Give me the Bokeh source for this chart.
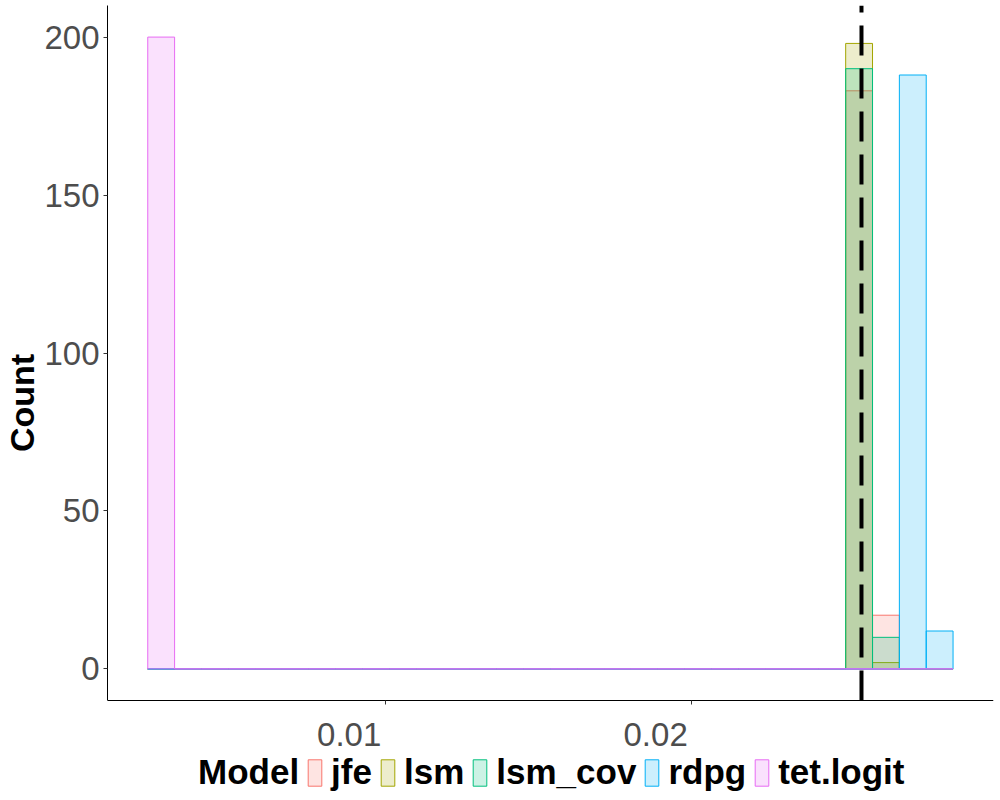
from bokeh.plotting import figure
from bokeh.models import Range1d, FixedTicker, Legend, LegendItem, Label
from bokeh.embed import file_html
from bokeh.resources import INLINE

# ---- data (30 bins) ----
models = ["jfe", "lsm", "lsm_cov", "rdpg", "tet.logit"]
colors = ["#F8766D", "#A3A500", "#00BF7D", "#00B0F6", "#E76BF3"]
bin_start = 0.002248
bin_width = 0.000876
counts_jfe =       [0, 0, 0, 0, 0, 0, 0, 0, 0, 0, 0, 0, 0, 0, 0, 0, 0, 0, 0, 0, 0, 0, 0, 0, 0, 0, 183, 17, 0, 0]
counts_lsm =       [0, 0, 0, 0, 0, 0, 0, 0, 0, 0, 0, 0, 0, 0, 0, 0, 0, 0, 0, 0, 0, 0, 0, 0, 0, 0, 198, 2, 0, 0]
counts_lsm_cov =   [0, 0, 0, 0, 0, 0, 0, 0, 0, 0, 0, 0, 0, 0, 0, 0, 0, 0, 0, 0, 0, 0, 0, 0, 0, 0, 190, 10, 0, 0]
counts_rdpg =      [0, 0, 0, 0, 0, 0, 0, 0, 0, 0, 0, 0, 0, 0, 0, 0, 0, 0, 0, 0, 0, 0, 0, 0, 0, 0, 0, 0, 188, 12]
counts_tet_logit = [200, 0, 0, 0, 0, 0, 0, 0, 0, 0, 0, 0, 0, 0, 0, 0, 0, 0, 0, 0, 0, 0, 0, 0, 0, 0, 0, 0, 0, 0]
true_value = 0.02554
x_ticks = [0.01, 0.02]
x_tick_labels = ["0.01", "0.02"]
y_ticks = [0, 50, 100, 150, 200]
x_limits = (0.000934, 0.029848)
y_limits = (-10, 210)
y_view_bottom = -41.65   # extra room below the x axis for tick labels and legend

series = [counts_jfe, counts_lsm, counts_lsm_cov, counts_rdpg, counts_tet_logit]

FONT = "Liberation Sans"

p = figure(width=1000, height=800, output_backend="svg", toolbar_location=None,
           x_range=Range1d(*x_limits), y_range=Range1d(y_view_bottom, y_limits[1]),
           min_border_left=107, min_border_top=5, min_border_right=7, min_border_bottom=0)
p.xgrid.visible = False
p.ygrid.visible = False
p.outline_line_color = None
p.background_fill_color = "white"
p.border_fill_color = "white"

n = len(counts_jfe)
lefts = [bin_start + i * bin_width for i in range(n)]
rights = [bin_start + (i + 1) * bin_width for i in range(n)]

renderers = []
for name, col, cnt in zip(models, colors, series):
    r = p.quad(left=lefts, right=rights, bottom=[0] * n, top=cnt,
               fill_color=col, fill_alpha=0.2, line_color=col, line_width=1)
    renderers.append(r)

# reference value: dashed vertical line across the panel (dash pattern starts at the x axis)
p.segment(x0=[true_value], y0=[y_limits[0]], x1=[true_value], y1=[y_limits[1]],
          line_color="black", line_width=4, line_dash="30 13")

# axes
for ax in (p.xaxis[0], p.yaxis[0]):
    ax.axis_line_color = "black"
    ax.axis_line_width = 1
    ax.major_tick_out = 4
    ax.major_tick_in = 0
    ax.major_tick_line_color = "#333333"
    ax.minor_tick_line_color = None
    ax.major_label_text_font = FONT
    ax.major_label_text_font_size = "33px"
    ax.major_label_text_color = "#4D4D4D"
    ax.major_label_standoff = 4

p.xaxis.ticker = FixedTicker(ticks=x_ticks)
p.yaxis.ticker = FixedTicker(ticks=y_ticks)
p.yaxis.bounds = y_limits
p.xaxis.fixed_location = y_limits[0]
# x tick labels are right-aligned at their ticks in the reference: drawn as labels
p.xaxis.major_label_overrides = {t: "" for t in x_ticks}
for t, lab in zip(x_ticks, x_tick_labels):
    p.add_layout(Label(x=t, y=66, x_units="data", y_units="screen", text=lab,
                       text_align="right", text_baseline="alphabetic", x_offset=-4,
                       text_font=FONT, text_font_size="33px", text_color="#4D4D4D"))

p.yaxis.axis_label = "Count"
p.yaxis.axis_label_text_font = FONT
p.yaxis.axis_label_text_font_size = "34px"
p.yaxis.axis_label_text_font_style = "bold"
p.yaxis.axis_label_text_color = "black"
p.yaxis.axis_label_standoff = 0

# legend with "Model" title as first (blank-key) entry, placed below the x axis
title_r = p.quad(left=[], right=[], bottom=[], top=[], fill_alpha=0, line_alpha=0)
items = [LegendItem(label="Model", renderers=[title_r])]
items += [LegendItem(label=m, renderers=[r]) for m, r in zip(models, renderers)]
legend = Legend(items=items, orientation="horizontal", location=(66, 8),
                glyph_width=17, glyph_height=33, label_standoff=8, spacing=7,
                padding=0, margin=0, border_line_color=None, background_fill_alpha=0,
                label_text_font=FONT, label_text_font_size="35px",
                label_text_font_style="bold", label_text_color="black",
                label_height=33)
p.add_layout(legend, "center")

open("out.html", "w").write(file_html(p, INLINE))
